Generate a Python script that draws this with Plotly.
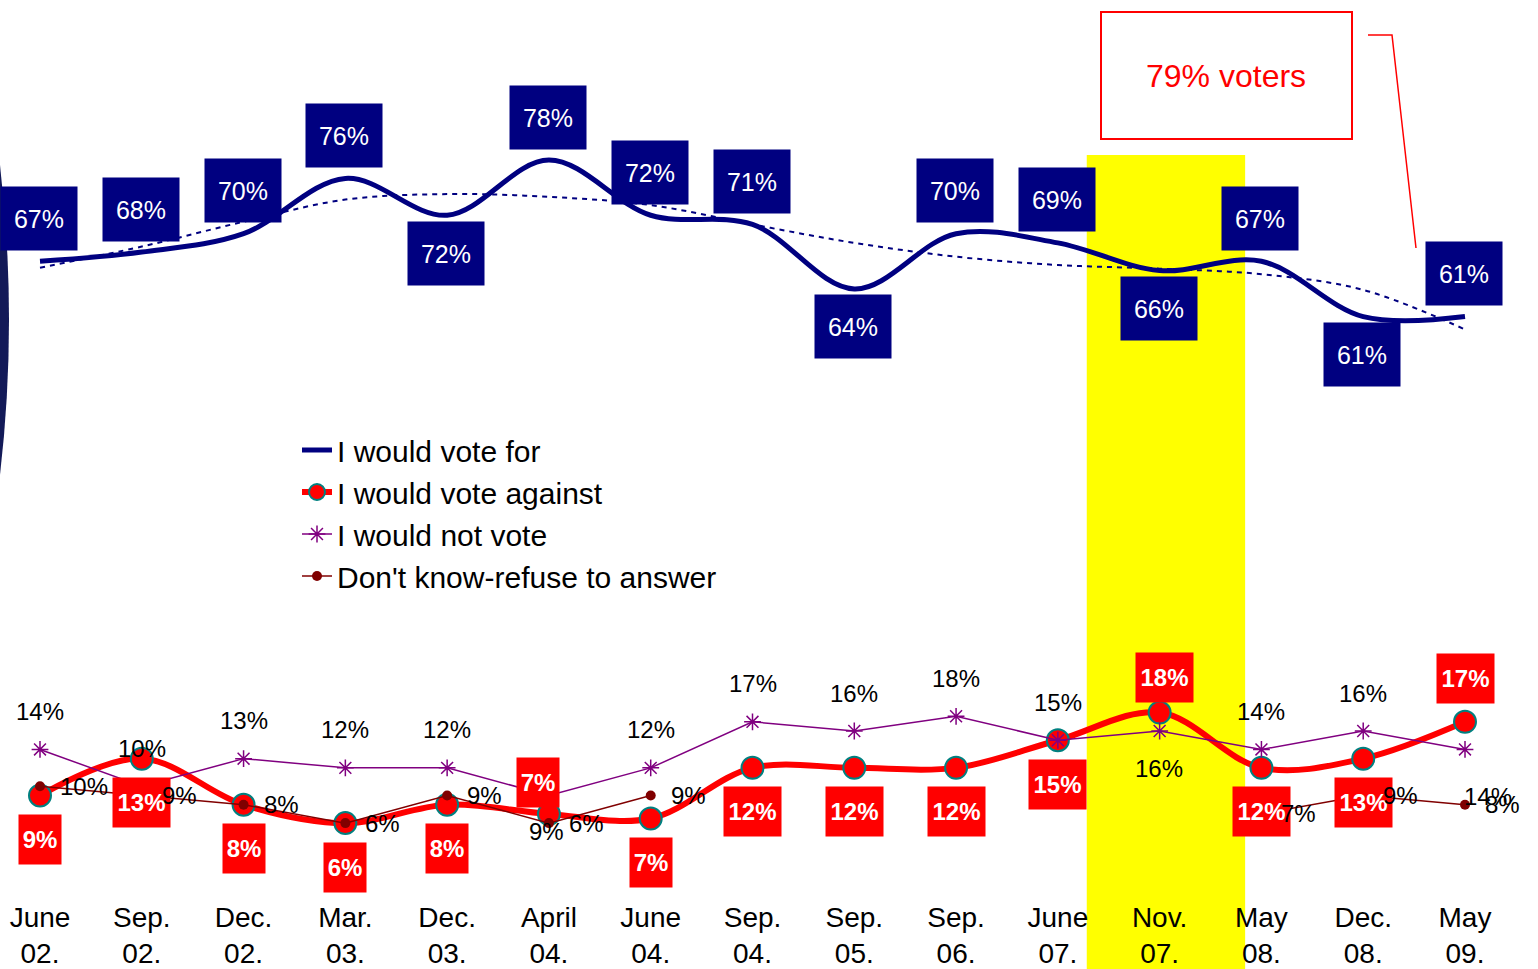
import plotly.graph_objects as go

# ---------------- data ----------------
periods = ["June<br>02.", "Sep.<br>02.", "Dec.<br>02.", "Mar.<br>03.", "Dec.<br>03.",
           "April<br>04.", "June<br>04.", "Sep.<br>04.", "Sep.<br>05.", "Sep.<br>06.",
           "June<br>07.", "Nov.<br>07.", "May<br>08.", "Dec.<br>08.", "May<br>09."]
vote_for = [67, 68, 70, 76, 72, 78, 72, 71, 64, 70, 69, 66, 67, 61, 61]
vote_for_trend = [66.3, 68.6, 71.3, 73.7, 74.3, 74.0, 73.1, 71.0, 69.0, 67.5,
                  66.6, 66.2, 65.6, 63.9, 59.6]
vote_against = [9, 13, 8, 6, 8, 7, 6.5, 12, 12, 12, 15, 18, 12, 13, 17]
not_vote = [14, 10, 13, 12, 12, 9, 12, 17, 16, 17.6, 15, 16, 14, 16, 14]
dont_know = [10, 9, 8, 6, 9, 6, 9, None, None, None, None, None, 7, 9, 8]
highlight_period = 11  # Nov. 07.
callout_text = "79% voters"

idx = list(range(len(periods)))


def pct(v):
    return f"{int(v + 0.5)}%"


# ---------------- geometry ----------------
W, H = 1538, 969
PLOT_BOTTOM = 898
PX_PER = 9.21
ymax = 78 + 160 / PX_PER
ymin = ymax - PLOT_BOTTOM / PX_PER
DX = (1465 - 40) / 14
xmin = -40 / DX
xmax = xmin + W / DX


def px(xp):
    return xp / W


def py(yp):
    return 1 - yp / PLOT_BOTTOM


FONT = "Arial, 'Liberation Sans', sans-serif"
NAVY = "#000080"
RED = "#FF0000"
PURPLE = "#800080"
MAROON = "#800000"

fig = go.Figure()

fig.add_trace(go.Scatter(
    x=idx, y=vote_for_trend, mode="lines", showlegend=False, hoverinfo="skip",
    line=dict(color=NAVY, width=2, dash="5px,5px", shape="spline", smoothing=1)))

fig.add_trace(go.Scatter(
    x=idx, y=vote_for, mode="lines", name="I would vote for",
    line=dict(color=NAVY, width=5, shape="spline", smoothing=1)))

fig.add_trace(go.Scatter(
    x=idx, y=vote_against, mode="lines+markers", name="I would vote against",
    line=dict(color=RED, width=6, shape="spline", smoothing=1),
    marker=dict(size=22, color=RED, line=dict(color="#008080", width=2))))

fig.add_trace(go.Scatter(
    x=idx, y=not_vote, mode="lines+markers", name="I would not vote",
    line=dict(color=PURPLE, width=1.5),
    marker=dict(symbol="asterisk-open", size=14, color=PURPLE,
                line=dict(color=PURPLE, width=1.5))))

fig.add_trace(go.Scatter(
    x=idx, y=dont_know, mode="lines+markers", name="Don't know-refuse to answer",
    line=dict(color=MAROON, width=1.5),
    marker=dict(symbol="circle", size=10, color=MAROON)))

annotations = []

# navy boxes for "vote for"
for_below = {4, 8, 11, 13}
for i, v in enumerate(vote_for):
    annotations.append(dict(
        x=i, y=v, text=pct(v), showarrow=False,
        yshift=-38 if i in for_below else 43, xshift=-1,
        bgcolor=NAVY, width=76, height=63, borderpad=0,
        font=dict(family=FONT, size=25, color="white")))

# red boxes for "vote against"
against_shift = {5: (-11, 31), 11: (5, 35), 14: (0, 43)}
for i, v in enumerate(vote_against):
    xs, ys = against_shift.get(i, (0, -44))
    t = pct(v)
    annotations.append(dict(
        x=i, y=v, text=f"<b>{t}</b>", showarrow=False, xshift=xs, yshift=ys,
        bgcolor=RED, width=57 if len(t) > 2 else 42, height=49, borderpad=0,
        font=dict(family=FONT, size=24, color="white")))

# labels for "not vote"
not_shift = {5: (-2, -36), 11: (-1, -37), 14: (23, -47)}
for i, v in enumerate(not_vote):
    xs, ys = not_shift.get(i, (0, 38))
    annotations.append(dict(
        x=i, y=v, text=pct(v), showarrow=False, xshift=xs, yshift=ys,
        font=dict(family=FONT, size=24, color="black")))

# labels for "don't know"
for i, v in enumerate(dont_know):
    if v is None:
        continue
    annotations.append(dict(
        x=i, y=v, text=pct(v), showarrow=False, xanchor="left", xshift=18,
        font=dict(family=FONT, size=24, color="black")))

# callout
annotations.append(dict(
    x=px(1226), y=py(76), xref="paper", yref="paper", text=callout_text,
    xanchor="center", yanchor="middle",
    showarrow=False, font=dict(family=FONT, size=32, color=RED)))

shapes = [
    dict(type="rect", xref="x", yref="paper",
         x0=highlight_period - 0.716, x1=highlight_period + 0.84,
         y0=py(980), y1=py(155), fillcolor="#FFFF00", line=dict(width=0),
         layer="below"),
    dict(type="path", xref="paper", yref="paper",
         path=f"M 0,{py(165)} Q {px(18)},{py(320)} 0,{py(475)} Z",
         fillcolor="#131a58", line=dict(width=0), layer="above"),
    dict(type="rect", xref="paper", yref="paper",
         x0=px(1101), x1=px(1352), y0=py(139), y1=py(12),
         line=dict(color=RED, width=2), fillcolor="white", layer="above"),
    dict(type="path", xref="paper", yref="paper",
         path=f"M {px(1368)},{py(35)} L {px(1392)},{py(35)} L {px(1416)},{py(248)}",
         line=dict(color=RED, width=1.5), layer="above"),
]

fig.update_layout(
    width=W, height=H,
    margin=dict(l=0, r=0, t=0, b=H - PLOT_BOTTOM, pad=0),
    paper_bgcolor="white", plot_bgcolor="white",
    font=dict(family=FONT, color="black"),
    showlegend=True,
    legend=dict(x=px(297), y=py(424), xanchor="left", yanchor="top",
                bgcolor="rgba(0,0,0,0)", font=dict(family=FONT, size=30, color="black"),
                tracegroupgap=0),
    xaxis=dict(range=[xmin, xmax], tickmode="array", tickvals=idx, ticktext=periods,
               tickfont=dict(family=FONT, size=28, color="black"),
               showgrid=False, zeroline=False, showline=False, ticks=""),
    yaxis=dict(range=[ymin, ymax], visible=False, showgrid=False, zeroline=False),
    annotations=annotations,
    shapes=shapes,
    hovermode=False,
)

fig.write_html("out.html", config={"displayModeBar": False},
               post_script="document.body.style.margin='0';")
